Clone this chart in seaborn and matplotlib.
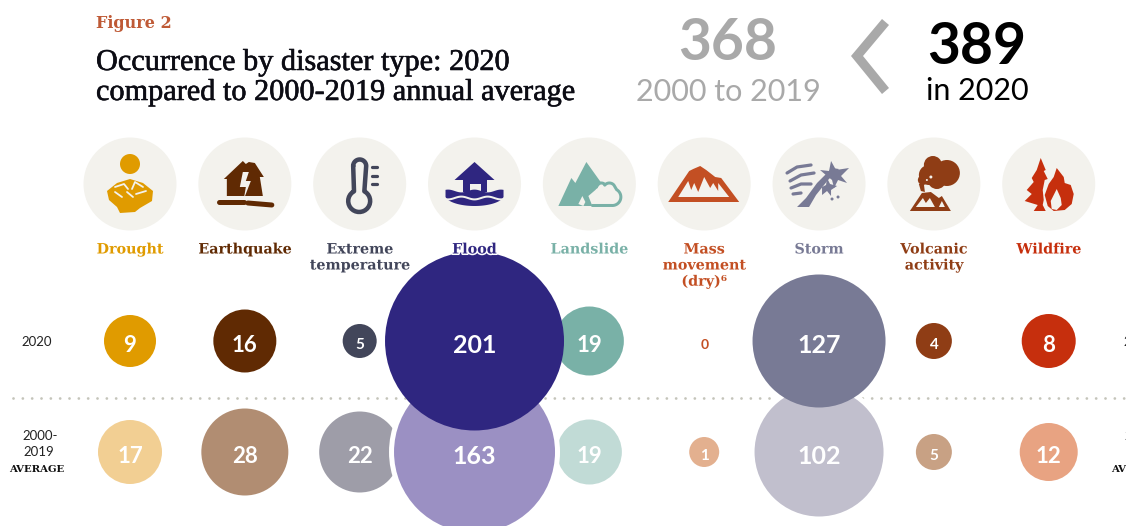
import numpy as np
import pandas as pd
import matplotlib
matplotlib.use("Agg")
import matplotlib.pyplot as plt
import matplotlib.patheffects as pe
from matplotlib.patches import Circle, Polygon
import seaborn as sns

# Disaster occurrences per type
disaster_types = ["Drought", "Earthquake", "Extreme\ntemperature", "Flood", "Landslide",
                  "Mass\nmovement\n(dry)\u2076", "Storm", "Volcanic\nactivity", "Wildfire"]
count_2020 = [9, 16, 5, 201, 19, 0, 127, 4, 8]
count_baseline = [17, 28, 22, 163, 19, 1, 102, 5, 12]
total_baseline = 368
total_2020 = 389

# One strong and one pale tone for each type
strong_colors = ["#e09b00", "#602a03", "#42465a", "#2f2680", "#79b1a7",
                 "#c34f23", "#787a95", "#8f3d15", "#c62f0d"]
pale_colors = ["#f2cf93", "#b18d72", "#9e9da8", "#9b90c3", "#c1dbd6",
               "#e3b08f", "#c1bfcd", "#c8a184", "#e8a382"]

# Visible bubble diameter (px) for each count, one scale per row
diam_2020 = {0: 0, 4: 36, 5: 34, 8: 54, 9: 52, 16: 63, 19: 69, 127: 133, 201: 179}
diam_baseline = {1: 30, 5: 36, 12: 58, 17: 64, 19: 65, 22: 81, 28: 87, 102: 129, 163: 161}

PX = 72 / 100        # one pixel in points at 100 dpi
W, H = 1126, 526

SERIF = "DejaVu Serif"
SANS = "Lato"
BG = "#f3f2ed"

sns.set_theme(style="white")
plt.rcParams["font.family"] = [SANS, "DejaVu Sans"]

fig = plt.figure(figsize=(W / 100, H / 100), dpi=100, facecolor="white")

# Chart axes: x is the type index, y is the row index
ax = fig.add_axes([0, 0, 1, 1])
step, x0 = 114.84, 130.0
rowgap, y0 = 111.0, 341.0
xlim = (-x0 / step, (W - x0) / step)
ylim = ((H - y0) / rowgap, -y0 / rowgap)
ax.set_xlim(*xlim)
ax.set_ylim(*ylim)

# Canvas axes in pixels for header text and pictograms
cv = fig.add_axes([0, 0, 1, 1], zorder=5)
cv.set_xlim(0, W)
cv.set_ylim(H, 0)
cv.axis("off")
cv.patch.set_alpha(0)

ax.plot([xlim[0] + 13 / step, xlim[1]], [0.513, 0.513], color="#c4c4ba", lw=2.0,
        linestyle=(0, (0.01, 3.35)), dash_capstyle="round", zorder=0)


def draw_row(values, row, colors, diam, ring, layer):
    frame = pd.DataFrame({"kind": disaster_types, "x": np.arange(len(values)),
                          "y": row, "value": values}).sort_values("value")
    areas = {v: 0 if d == 0 else ((d + ring) * PX) ** 2 for v, d in diam.items()}
    edge = "white" if ring else "none"
    sns.scatterplot(data=frame, x="x", y="y", hue="kind", size="value",
                    palette=dict(zip(disaster_types, colors)), sizes=areas,
                    edgecolor=edge, linewidth=ring * PX, legend=False,
                    ax=ax, zorder=layer)
    for i, v in enumerate(values):
        if v == 0:
            size, col = 10, colors[i]
        elif v < 6:
            size, col = 11, "white"
        elif v < 100:
            size, col = 16, "white"
        else:
            size, col = 18, "white"
        ax.annotate(str(v), (i, row), xytext=(0, -3), textcoords="offset points",
                    ha="center", va="center", color=col, fontsize=size, fontweight="bold",
                    zorder=10, family=SANS)


# Only the pale row carries a white ring
draw_row(count_baseline, 1, pale_colors, diam_baseline, 5, 2)
draw_row(count_2020, 0, strong_colors, diam_2020, 0, 3)
ax.set_xlim(*xlim)
ax.set_ylim(*ylim)
ax.axis("off")

# Header
cv.text(96, 24, "Figure 2", family=SERIF, fontweight="bold", fontsize=11.5, color="#bf5a36",
        ha="left", va="center")
title_style = dict(family="Liberation Serif", fontsize=21.8, color="#0c0c14", ha="left", va="center",
                   path_effects=[pe.withStroke(linewidth=0.4, foreground="#0c0c14")])
cv.text(96, 63, "Occurrence by disaster type: 2020", **title_style)
cv.text(96, 93, "compared to 2000-2019 annual average", **title_style)

cv.text(728, 44, str(total_baseline), fontsize=41, fontweight="bold", color="#a9a9a9", ha="center", va="center")
cv.text(728, 92, "2000 to 2019", fontsize=22, color="#a9a9a9", ha="center", va="center")
cv.text(977, 48, str(total_2020), fontsize=41, fontweight="bold", color="black", ha="center", va="center")
cv.text(977, 91, "in 2020", fontsize=22, color="black", ha="center", va="center")
cv.add_patch(Polygon([(882, 19), (851, 56), (882, 94), (889, 88), (863, 56), (889, 25)],
                     closed=True, fc="#a9a9a9", ec="none"))

# Row captions, repeated past the right edge
for off in (0, 1102):
    cv.text(37 + off, 342, "2020", fontsize=9.5, color="#222222", ha="center", va="center")
    cv.text(40 + off, 436, "2000-", fontsize=9.5, color="#222222", ha="center", va="center")
    cv.text(39 + off, 452, "2019", fontsize=9.5, color="#222222", ha="center", va="center")
    cv.text(37 + off, 470, "AVERAGE", family=SERIF, fontweight="bold", fontsize=7.3, color="#111111",
            ha="center", va="center")


# Pictogram helpers, offsets in pixels from a pictogram centre
def poly(c, pts, color, **kw):
    cv.add_patch(Polygon(np.array(pts, float) + c, closed=True, fc=color, ec="none", **kw))


def stroke(c, pts, color, lw):
    p = np.array(pts, float) + c
    cv.plot(p[:, 0], p[:, 1], color=color, lw=lw * PX, solid_capstyle="round",
            solid_joinstyle="round")


def disc(c, dx, dy, r, color):
    cv.add_patch(Circle((c[0] + dx, c[1] + dy), r, fc=color, ec="none"))


def arc(cx, cy, r, a0, a1):
    t = np.radians(np.linspace(a0, a1, 24))
    return np.c_[cx + r * np.cos(t), cy + r * np.sin(t)]


def drought(c, col):
    disc(c, 0, -20, 10, col)
    poly(c, [(-23, 7), (-13, -1), (0, -5), (13, -1), (23, 7), (22, 17), (10, 24), (5, 28),
             (-10, 29), (-13, 23), (-21, 16)], col)
    for seg in ([(-15, 3), (-6, 0), (-2, 5)], [(2, 5), (5, -2), (13, 3)], [(-3, 8), (3, 13)],
                [(-8, 13), (-15, 8)], [(6, 10), (16, 7)]):
        stroke(c, seg, BG, 1.8)


def earthquake(c, col):
    poly(c, [(-21, -5), (-2, -23), (1, -20), (4, -22), (10, -21), (19, -7), (15, -7), (18, 12),
             (-18, 12), (-18, -5)], col)
    poly(c, [(-2, -12), (4, -12), (1, -3), (6, -3), (-1, 15), (1, 3), (-5, 3)], BG)
    stroke(c, [(-26, 18), (-1, 18)], col, 5)
    stroke(c, [(3, 19), (27, 21)], col, 5)


def thermometer(c, col):
    top = arc(0, -18, 6.5, 180, 360)
    bulb = arc(-0.5, 17, 11, -62, 242)
    stroke(c, np.vstack([top, bulb, top[:1]]), col, 4.5)
    for y in (-17, -8, 0):
        stroke(c, [(12, y), (17, y)], col, 3.2)


def flood(c, col):
    poly(c, [(-20, -4), (0, -22), (20, -4)], col)
    poly(c, [(-12, -5), (12, -5), (12, 8), (6, 8), (6, 0), (-5, 0), (-5, 8), (-12, 8)], col)
    xs = np.linspace(-29, 29, 60)
    top = np.c_[xs, 7 - 1.4 * np.cos(xs / 4.2)]
    bottom = np.c_[xs[::-1], 11 + 11 * np.sqrt(1 - (xs[::-1] / 29.5) ** 2)]
    poly(c, np.vstack([top, bottom]), col)
    stroke(c, np.c_[xs, 14 + 1.4 * np.cos(xs / 4.2)], BG, 2)


def landslide(c, col):
    poly(c, [(-31, 22), (-18, -6), (-14, -1), (-3, -22), (12, -1), (6, 6), (-1, 12), (3, 22)], col)
    poly(c, [(-11, 20), (-7, 12), (-4, 18), (-6, 22)], BG)
    outline = np.vstack([arc(12, 4, 5, 190, 300), arc(20, 5, 6, 220, 320),
                         arc(23, 13, 8.5, -60, 95), [(3, 21.5)]])
    stroke(c, outline, col, 3)


def mass_movement(c, col):
    poly(c, [(-36, 18), (-15, -13), (-11, -15), (-4, -18), (2, -14), (11, -7), (17, -6), (35, 18)], col)
    poly(c, [(-26, 13), (-16, -3), (-13, 6), (-10, -1), (-6, 8), (0, -7), (6, 4), (9, -1), (14, 7),
             (14, -1), (25, 13)], BG)


def storm(c, col):
    poly(c, [(-22, 23), (-10, 23), (-3, 11), (9, -4), (20, -15), (13, -16), (-2, -1), (-13, 14)], col)
    poly(c, [(8, -8), (1, -14), (10, -13), (12, -23), (17, -14), (30, -16), (22, -8), (28, -1),
             (19, -4), (15, 4), (13, -4)], col)
    poly(c, [(3, 3), (7, 1), (8, -6), (11, 0), (18, 2), (12, 6), (12, 12), (8, 7), (3, 11)], col)
    stroke(c, [(-32, -11), (-22, -17), (-8, -19)], col, 3.2)
    stroke(c, [(-29, -3), (-18, -9), (-5, -11)], col, 3.2)
    stroke(c, [(-28, 4), (-18, 0), (-8, 0)], col, 3.2)
    stroke(c, [(-26, 10), (-18, 9)], col, 3.2)
    disc(c, 13, 15, 1.5, col)
    disc(c, 19, 13, 1.5, col)


def volcano(c, col):
    for dx, dy, r in [(-1, -19, 9), (13, -11, 13), (-5, -9, 10), (3, -4, 9), (-11, -4, 5)]:
        disc(c, dx, dy, r, col)
    poly(c, [(-15, 0), (-10, 0), (-9, 8), (-13, 7)], col)
    disc(c, -3, -7, 1.5, BG)
    disc(c, -7, -4, 1, BG)
    poly(c, [(-24, 27), (-12, 9), (-3, 8), (5, 14), (8, 12), (17, 27)], col)
    poly(c, [(-18, 23), (-11, 14), (-8, 19), (-4, 14), (1, 23)], BG)
    poly(c, [(5, 23), (8, 17), (11, 23)], BG)


def wildfire(c, col):
    poly(c, [(-8, -26), (-3, -14), (-5, -13), (-1, -5), (-4, -4), (-6, 6), (-5, 16), (-6, 21),
             (-3, 27), (-15, 27), (-11, 21), (-24, 17), (-17, 10), (-22, 6), (-15, -2), (-17, -6),
             (-12, -14)], col)
    poly(c, [(8, -16), (15, -7), (16, -1), (22, 1), (25, 10), (23, 20), (16, 26), (5, 27),
             (-1, 22), (-4, 11), (0, 0), (5, -7)], col)
    poly(c, [(8, 5), (12, 14), (13, 21), (8, 26), (3, 25), (2, 17)], BG)


pictograms = [drought, earthquake, thermometer, flood, landslide, mass_movement, storm, volcano, wildfire]
for i, (name, col, draw) in enumerate(zip(disaster_types, strong_colors, pictograms)):
    cx = x0 + i * step
    c = np.array([cx, 184.0])
    cv.add_patch(Circle(c, 46.5, fc=BG, ec="none"))
    draw(c, col)
    for j, line in enumerate(name.split("\n")):
        cv.text(cx, 249.5 + 16 * j, line, family=SERIF, fontweight="bold", fontsize=10.3, color=col,
                ha="center", va="center",
                path_effects=[pe.withStroke(linewidth=2.2, foreground="white")])

fig.savefig("out.png", dpi=100)
